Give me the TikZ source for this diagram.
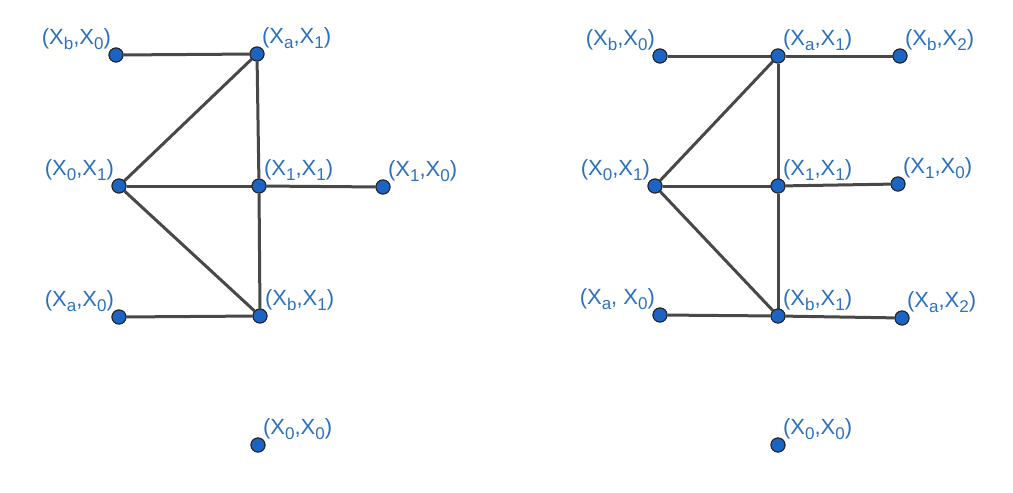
\documentclass[tikz,border=0pt]{standalone}
\usepackage{fontspec}
\setmainfont{Liberation Sans}
\usepackage{tikz}
\usetikzlibrary{positioning}
\definecolor{vblue}{RGB}{28,100,196}
\definecolor{tblue}{RGB}{44,112,192}
\definecolor{lgray}{RGB}{72,72,72}
\newcommand{\ix}[1]{\raisebox{-0.45ex}{\fontsize{17}{17}\selectfont #1}}

\begin{document}
\begin{tikzpicture}[
  x=1pt, y=-1pt,
  font=\fontsize{22}{24}\selectfont,
  vtx/.style={circle, draw=black!85, line width=1pt, fill=vblue, inner sep=0pt, minimum size=14pt},
  lab/.style={text=tblue, inner sep=1pt, label distance=-2pt},
  ln/.style={draw=lgray, line width=3pt}
]
\useasboundingbox (0,0) rectangle (1013,493);
% left graph
\node[vtx, label={[lab]above left:(X\ix{b},X\ix{0})}] (lb0) at (116,55) {};
\node[vtx, label={[lab]above right:(X\ix{a},X\ix{1})}] (la1) at (257,54) {};
\node[vtx, label={[lab]above left:(X\ix{0},X\ix{1})}] (l01) at (119,186) {};
\node[vtx, label={[lab]above right:(X\ix{1},X\ix{1})}] (l11) at (259,186) {};
\node[vtx, label={[lab]above right:(X\ix{1},X\ix{0})}] (l10) at (383,187) {};
\node[vtx, label={[lab]above left:(X\ix{a},X\ix{0})}] (la0) at (119,317) {};
\node[vtx, label={[lab]above right:(X\ix{b},X\ix{1})}] (lb1) at (260,316) {};
\node[vtx, label={[lab]above right:(X\ix{0},X\ix{0})}] (l00) at (258,445) {};
% right graph
\node[vtx, label={[lab]above left:(X\ix{b},X\ix{0})}] (rb0) at (660,56) {};
\node[vtx, label={[lab]above right:(X\ix{a},X\ix{1})}] (ra1) at (778,56) {};
\node[vtx, label={[lab]above right:(X\ix{b},X\ix{2})}] (rb2) at (900,56) {};
\node[vtx, label={[lab]above left:(X\ix{0},X\ix{1})}] (r01) at (655,186) {};
\node[vtx, label={[lab]above right:(X\ix{1},X\ix{1})}] (r11) at (778,186) {};
\node[vtx, label={[lab]above right:(X\ix{1},X\ix{0})}] (r10) at (898,184) {};
\node[vtx, label={[lab]above left:(X\ix{a}, X\ix{0})}] (ra0) at (660,315) {};
\node[vtx, label={[lab]above right:(X\ix{b},X\ix{1})}] (rb1) at (778,316) {};
\node[vtx, label={[lab]above right:(X\ix{a},X\ix{2})}] (ra2) at (902,318) {};
\node[vtx, label={[lab]above right:(X\ix{0},X\ix{0})}] (r00) at (778,445) {};
% edges
\foreach \a/\b in {lb0/la1, la1/l01, la1/l11, l01/l11, l11/l10, l01/lb1, l11/lb1, la0/lb1,
                   rb0/ra1, ra1/rb2, ra1/r01, ra1/r11, r01/r11, r11/r10, r01/rb1, r11/rb1, ra0/rb1, rb1/ra2}
  \draw[ln] (\a) -- (\b);
% dots on top
\foreach \n in {lb0,la1,l01,l11,l10,la0,lb1,l00,rb0,ra1,rb2,r01,r11,r10,ra0,rb1,ra2,r00}
  \node[vtx] at (\n) {};
\end{tikzpicture}
\end{document}
